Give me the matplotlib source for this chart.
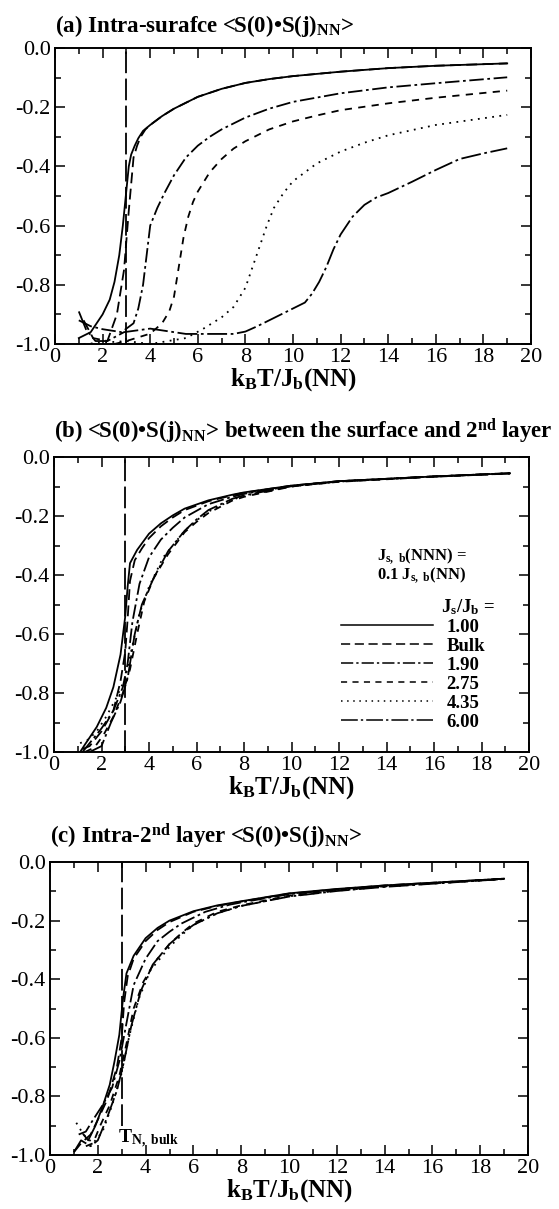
import matplotlib
matplotlib.use("Agg")
import matplotlib.pyplot as plt
from matplotlib.ticker import MultipleLocator
from matplotlib.lines import Line2D

plt.rcParams['font.family'] = ['Liberation Serif', 'DejaVu Serif']
plt.rcParams['mathtext.fontset'] = 'custom'
plt.rcParams['mathtext.rm'] = 'Liberation Serif:bold'
plt.rcParams['mathtext.it'] = 'Liberation Serif:bold'
plt.rcParams['mathtext.bf'] = 'Liberation Serif:bold'

labels = ["1.00", "Bulk", "1.90", "2.75", "4.35", "6.00"]

# ---- Panel (a): intra-surface ----
a_T_100 = [1.0, 1.5, 2.0, 2.3, 2.5, 2.7, 2.85, 3.0, 3.1, 3.2, 3.35, 3.5, 3.7, 4.0, 4.5, 5, 5.5, 6, 7, 8, 9, 10, 12, 14, 16, 19]
a_100 = [-0.98, -0.96, -0.9, -0.85, -0.79, -0.7, -0.6, -0.48, -0.4, -0.36, -0.33, -0.305, -0.28, -0.26, -0.23, -0.205, -0.185, -0.165, -0.138, -0.118, -0.105, -0.095, -0.08, -0.068, -0.06, -0.052]
a_T_bulk = [1.2, 1.6, 2.2, 2.6, 2.9, 3.1, 3.3, 3.45, 3.6, 3.8, 4.0, 4.5, 5, 5.5, 6, 7, 8, 9, 10, 12, 14, 16, 19]
a_bulk = [-0.92, -0.98, -0.99, -0.9, -0.75, -0.55, -0.37, -0.33, -0.3, -0.275, -0.26, -0.23, -0.205, -0.185, -0.165, -0.138, -0.118, -0.105, -0.095, -0.08, -0.068, -0.06, -0.052]
a_T_190 = [1.0, 1.5, 2.0, 2.8, 3.3, 3.5, 3.7, 3.85, 4.0, 4.3, 4.6, 5, 5.5, 6, 6.5, 7, 8, 9, 10, 12, 14, 16, 19]
a_190 = [-0.92, -0.94, -0.95, -0.96, -0.93, -0.88, -0.8, -0.7, -0.6, -0.54, -0.49, -0.43, -0.37, -0.33, -0.3, -0.275, -0.235, -0.205, -0.182, -0.153, -0.133, -0.119, -0.099]
a_T_275 = [2.5, 3.0, 4.0, 4.5, 4.8, 5.0, 5.2, 5.4, 5.6, 5.8, 6, 6.5, 7, 7.5, 8, 9, 10, 11, 12, 14, 16, 19]
a_275 = [-1.0, -0.99, -0.965, -0.93, -0.89, -0.84, -0.74, -0.64, -0.57, -0.52, -0.485, -0.42, -0.375, -0.34, -0.315, -0.275, -0.248, -0.228, -0.21, -0.187, -0.168, -0.144]
a_T_435 = [1.2, 3.0, 4.0, 5.5, 6.2, 7, 7.5, 8, 8.3, 8.6, 8.9, 9.2, 9.6, 10, 11, 12, 13, 14, 16, 19]
a_435 = [-1.0, -0.99, -1.0, -0.98, -0.95, -0.91, -0.875, -0.81, -0.74, -0.67, -0.6, -0.54, -0.49, -0.45, -0.39, -0.35, -0.32, -0.295, -0.26, -0.226]
a_T_600 = [1.0, 1.3, 1.7, 2.2, 2.9, 4.0, 5.5, 7.5, 8, 8.5, 9, 9.5, 10, 10.5, 10.8, 11.1, 11.4, 11.7, 12, 12.5, 13, 13.5, 14, 15, 16, 17, 18, 19]
a_600 = [-0.89, -0.95, -0.99, -0.99, -0.96, -0.948, -0.966, -0.966, -0.958, -0.94, -0.92, -0.9, -0.88, -0.86, -0.83, -0.79, -0.74, -0.68, -0.63, -0.57, -0.53, -0.505, -0.49, -0.452, -0.412, -0.375, -0.356, -0.339]

# ---- Panel (b): between surface and 2nd layer ----
b_T_100 = [1.1, 1.3, 1.8, 2.2, 2.5, 2.8, 3.0, 3.1, 3.2, 3.5, 4.0, 4.5, 5.0, 5.5, 6.5, 7.5, 8, 10, 12, 16, 19.2]
b_100 = [-1.0, -0.975, -0.915, -0.85, -0.78, -0.67, -0.54, -0.44, -0.36, -0.315, -0.26, -0.225, -0.198, -0.175, -0.147, -0.128, -0.12, -0.097, -0.082, -0.066, -0.055]
b_T_bulk = [1.2, 1.5, 2.0, 2.5, 2.8, 3.0, 3.1, 3.2, 3.4, 3.7, 4.0, 4.5, 5.0, 5.5, 6.5, 7.5, 8, 10, 12, 16, 19.2]
b_bulk = [-0.99, -0.98, -0.93, -0.86, -0.76, -0.66, -0.55, -0.42, -0.35, -0.31, -0.275, -0.235, -0.205, -0.18, -0.15, -0.13, -0.121, -0.097, -0.082, -0.066, -0.055]
b_T_190 = [1.2, 1.6, 2.0, 2.5, 2.9, 3.1, 3.3, 3.6, 4.0, 4.5, 5.0, 5.5, 6.5, 7.5, 8, 10, 12, 16, 19.2]
b_190 = [-1.0, -0.96, -0.92, -0.86, -0.78, -0.7, -0.56, -0.43, -0.34, -0.28, -0.24, -0.205, -0.16, -0.135, -0.125, -0.098, -0.082, -0.066, -0.055]
b_T_275 = [1.3, 1.7, 2.1, 2.5, 2.9, 3.2, 3.5, 3.8, 4.2, 4.8, 5.5, 6.0, 6.5, 7.5, 8, 10, 12, 16, 19.2]
b_275 = [-1.0, -0.985, -0.94, -0.88, -0.8, -0.72, -0.6, -0.49, -0.41, -0.33, -0.255, -0.22, -0.19, -0.148, -0.135, -0.1, -0.084, -0.067, -0.056]
b_T_435 = [1.1, 1.4, 1.8, 2.2, 2.6, 3.0, 3.3, 3.6, 4.0, 4.6, 5.5, 6.0, 6.5, 7.5, 8, 10, 12, 16, 19.2]
b_435 = [-0.97, -0.96, -0.93, -0.88, -0.82, -0.75, -0.64, -0.53, -0.44, -0.34, -0.25, -0.215, -0.185, -0.145, -0.132, -0.1, -0.083, -0.066, -0.055]
b_T_600 = [1.5, 2.0, 2.4, 2.8, 3.1, 3.4, 3.7, 4.2, 4.8, 5.5, 6.0, 6.5, 7.5, 8, 10, 12, 16, 19.2]
b_600 = [-1.0, -0.98, -0.9, -0.83, -0.75, -0.6, -0.5, -0.41, -0.32, -0.25, -0.212, -0.18, -0.142, -0.13, -0.099, -0.083, -0.066, -0.056]

# ---- Panel (c): intra-2nd layer ----
c_T_100 = [1.4, 1.6, 1.9, 2.2, 2.5, 2.7, 2.9, 3.05, 3.2, 3.5, 4.0, 4.5, 5.0, 6.0, 7.0, 8.0, 10, 12, 14, 19]
c_100 = [-0.93, -0.95, -0.9, -0.835, -0.76, -0.68, -0.59, -0.47, -0.38, -0.32, -0.26, -0.225, -0.2, -0.168, -0.148, -0.134, -0.107, -0.092, -0.08, -0.057]
c_T_bulk = [1.0, 1.3, 1.7, 2.0, 2.4, 2.8, 3.0, 3.1, 3.25, 3.5, 4.0, 4.5, 5, 6, 7, 8, 10, 12, 14, 19]
c_bulk = [-0.99, -0.96, -0.93, -0.88, -0.81, -0.7, -0.6, -0.48, -0.39, -0.33, -0.27, -0.232, -0.205, -0.17, -0.15, -0.135, -0.108, -0.093, -0.08, -0.057]
c_T_190 = [1.2, 1.5, 1.8, 2.2, 2.6, 2.9, 3.2, 3.5, 4.0, 4.5, 5.0, 5.5, 6.5, 7.5, 8, 10, 12, 14, 19]
c_190 = [-0.93, -0.92, -0.88, -0.83, -0.77, -0.68, -0.55, -0.42, -0.33, -0.27, -0.238, -0.21, -0.17, -0.146, -0.138, -0.11, -0.094, -0.081, -0.057]
c_T_275 = [1.5, 1.8, 2.1, 2.5, 2.9, 3.2, 3.5, 3.9, 4.4, 5, 5.5, 6, 7, 8, 10, 12, 14, 19]
c_275 = [-0.97, -0.96, -0.9, -0.83, -0.73, -0.62, -0.5, -0.41, -0.34, -0.28, -0.243, -0.21, -0.17, -0.148, -0.115, -0.097, -0.083, -0.058]
c_T_435 = [1.1, 1.4, 1.8, 2.2, 2.6, 3.0, 3.3, 3.7, 4.2, 5, 5.5, 6, 7, 8, 10, 12, 14, 19]
c_435 = [-0.89, -0.93, -0.96, -0.92, -0.83, -0.72, -0.6, -0.47, -0.37, -0.29, -0.25, -0.215, -0.175, -0.15, -0.117, -0.098, -0.084, -0.058]
c_T_600 = [1.0, 1.3, 1.7, 2.0, 2.4, 2.8, 3.1, 3.4, 3.8, 4.3, 5, 5.5, 6, 7, 8, 10, 12, 14, 19]
c_600 = [-0.99, -0.95, -0.97, -0.95, -0.87, -0.78, -0.68, -0.56, -0.44, -0.35, -0.28, -0.245, -0.215, -0.175, -0.15, -0.118, -0.099, -0.085, -0.058]

T_N_bulk = 3.0

styles = ['-', (0, (6, 3)), (0, (8, 2, 1.5, 2)), (0, (4, 3.5)), (0, (1, 3)), (0, (11, 2, 1.5, 2))]

W, H = 559, 1209
fig = plt.figure(figsize=(W / 100, H / 100), dpi=100)


def make_ax(l, r, t, b):
    return fig.add_axes([l / W, 1 - b / H, (r - l) / W, (b - t) / H])


def style_ax(ax):
    ax.set_xlim(0, 20)
    ax.set_ylim(-1.0, 0.0)
    ax.xaxis.set_major_locator(MultipleLocator(2))
    ax.xaxis.set_minor_locator(MultipleLocator(1))
    ax.yaxis.set_major_locator(MultipleLocator(0.2))
    ax.yaxis.set_minor_locator(MultipleLocator(0.1))
    ax.yaxis.set_major_formatter(plt.FuncFormatter(lambda v, p: f"{v:.1f}".replace("-0.0", "0.0")))
    ax.tick_params(which='both', direction='in', top=True, right=True, width=1.1, labelsize=16, pad=3)
    ax.tick_params(which='major', length=7)
    ax.tick_params(which='minor', length=4)
    for s in ax.spines.values():
        s.set_linewidth(1.4)
    ax.set_xlabel(r"k$_\mathrm{B}$T/J$_\mathrm{b}$(NN)", fontsize=18, fontweight='bold', labelpad=-1)


def draw(ax, series):
    for (T, v), ls in zip(series, styles):
        ax.plot(T, v, color='black', lw=1.3, linestyle=ls)


ax1 = make_ax(55, 531, 48, 344)
style_ax(ax1)
draw(ax1, [(a_T_100, a_100), (a_T_bulk, a_bulk), (a_T_190, a_190), (a_T_275, a_275), (a_T_435, a_435), (a_T_600, a_600)])
ax1.plot([T_N_bulk, T_N_bulk], [-1.0, 0.0], color='black', lw=1.3, linestyle=(0, (12, 3)))
fig.text(55 / W, 1 - 32 / H, r"(a) Intra-surafce <S(0)•S(j)$_\mathrm{NN}$>", fontsize=16.5, fontweight='bold', va='baseline')

ax2 = make_ax(54, 529, 457, 752)
style_ax(ax2)
draw(ax2, [(b_T_100, b_100), (b_T_bulk, b_bulk), (b_T_190, b_190), (b_T_275, b_275), (b_T_435, b_435), (b_T_600, b_600)])
ax2.plot([T_N_bulk, T_N_bulk], [-1.0, 0.0], color='black', lw=1.3, linestyle=(0, (12, 3)))
fig.text(54 / W, 1 - 438 / H, r"(b) <S(0)•S(j)$_\mathrm{NN}$> between the surface and 2$^\mathrm{nd}$ layer", fontsize=16.5, fontweight='bold', va='baseline')
ax2.text(15.5, -0.335, r"J$_\mathrm{s,\ b}$(NNN) =", fontsize=12, fontweight='bold', ha='center', va='center')
ax2.text(15.5, -0.40, r"0.1 J$_\mathrm{s,\ b}$(NN)", fontsize=12, fontweight='bold', ha='center', va='center')
ax2.text(16.3, -0.51, r"J$_\mathrm{s}$/J$_\mathrm{b}$ =", fontsize=13.5, fontweight='bold', ha='left', va='center')
handles = [Line2D([], [], color='black', lw=1.1, linestyle=ls) for ls in styles]
leg = ax2.legend(handles, labels, loc='upper left', bbox_to_anchor=(12.1, -0.548), bbox_transform=ax2.transData,
                 frameon=False, prop={'weight': 'bold', 'size': 13.5}, handlelength=4.9, handletextpad=0.7,
                 labelspacing=0.1, borderpad=0, borderaxespad=0)

ax3 = make_ax(50, 528, 862, 1155)
style_ax(ax3)
draw(ax3, [(c_T_100, c_100), (c_T_bulk, c_bulk), (c_T_190, c_190), (c_T_275, c_275), (c_T_435, c_435), (c_T_600, c_600)])
ax3.plot([T_N_bulk, T_N_bulk], [-0.9, 0.0], color='black', lw=1.3, linestyle=(0, (12, 3)))
ax3.text(2.85, -0.96, r"T$_\mathrm{N,\ bulk}$", fontsize=14, fontweight='bold', ha='left', va='baseline')
fig.text(50 / W, 1 - 843 / H, r"(c) Intra-2$^\mathrm{nd}$ layer <S(0)•S(j)$_\mathrm{NN}$>", fontsize=16.5, fontweight='bold', va='baseline')

fig.savefig("out.png", dpi=100)
